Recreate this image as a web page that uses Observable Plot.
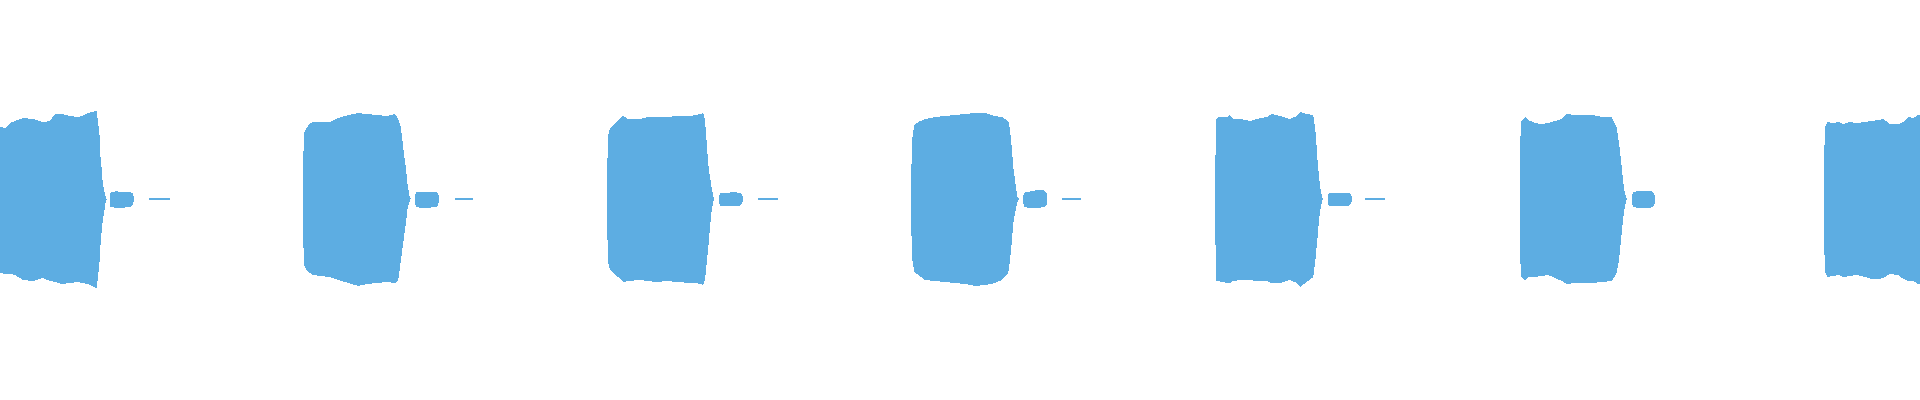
<!DOCTYPE html>
<html>
<head>
<meta charset="utf-8">
<script src="https://cdn.jsdelivr.net/npm/d3@7"></script>
<script src="https://cdn.jsdelivr.net/npm/@observablehq/plot@0.6"></script>
<style>
  html, body { margin: 0; padding: 0; background: #ffffff; }
  #chart svg { display: block; }
</style>
</head>
<body>
<div id="chart"></div>
<script>
// Waveform envelope readings: [time (ms), max amplitude, min amplitude]
const tone1 = [[0,36,-37],[5,35.5,-37.5],[10,38,-37.5],[15,39,-38],[23,40.5,-40.5],[33,40,-41],[43,38.5,-39.5],[50,39,-41],[55,42.5,-41.5],[62,42.5,-42.5],[70,41.5,-42],[77,41,-41.5],[82,41.5,-42],[88,43,-42.5],[96.5,44,-44.5],[98,38.5,-39],[99.5,32,-31.5],[100.5,21,-23],[101.5,16,-17],[102.5,9.5,-12],[104,4.5,-7],[105.5,1.5,-2],[106.5,0,-0.5]];
const blob1 = [[110,2.5,-3.5],[111,3.6,-4.2],[116,3.8,-4.3],[124,3.6,-4.3],[130,3.6,-4],[132.5,2.8,-3],[134,1,-1]];
const tail1 = [[149,0.4,-0.4],[170,0.4,-0.4]];

const tone2 = [[302.7,9.5,-10.5],[304,33,-33],[306.7,35.5,-35.5],[310,38,-37],[313.3,38.5,-38],[320,38.5,-38.5],[330,38.5,-39],[338.3,40.5,-40.5],[348.3,42,-42],[358.3,43,-43.5],[366.7,42.5,-42.5],[376.7,42,-42],[386.7,41.5,-41.5],[395,42.5,-42],[398.3,40,-40.5],[400.7,36,-31.5],[402.7,28,-24],[404,22,-19],[406,15.5,-12],[407.3,8,-5.5],[409.3,2,-1.5],[410.7,0,0]];
const blob2 = [[415,2,-2.5],[416.5,3.6,-4.2],[422,3.7,-4.3],[430,3.7,-4.3],[436,3.5,-4],[438,2.5,-3],[439.3,1,-1]];
const tail2 = [[455,0.4,-0.4],[473,0.4,-0.4]];

const tone3 = [[606.7,8.5,-9],[608.3,32,-32],[610,35.5,-35.5],[615,38,-38],[620,40.5,-39.5],[623.3,41.5,-41.5],[628.3,40,-41],[640,40,-40.5],[648.3,41,-41],[656.7,41,-41.5],[666.7,41,-41],[678.3,41.5,-41.5],[690,41.5,-42],[696.7,42,-42],[703.3,43,-43],[705,39.5,-40.5],[706.7,28.5,-32],[708.3,17,-24],[710,11,-14],[711.7,5.5,-5.5],[714,0,0]];
const blob3 = [[719.3,1.5,-2],[720.5,3,-3.5],[726,3.2,-3.5],[734,3.3,-3.5],[740,3.2,-3.4],[742,2,-2.5],[742.7,1,-1]];
const tail3 = [[757.7,0.4,-0.4],[778.3,0.4,-0.4]];

const tone4 = [[911,9.5,-10.5],[912.3,30.5,-30.5],[914.3,37,-36.5],[918.3,38.5,-38],[925,40,-40.5],[935,41,-41],[945,41.5,-41.5],[955,42,-42],[965,42.5,-42.5],[975,43,-43.5],[985,43,-43],[995,41.5,-42],[1001.7,41,-40.5],[1008.3,39,-37],[1010,34.5,-30.5],[1011.7,26,-22],[1013.3,16,-12],[1015,9.5,-7],[1017.3,1,-1.5],[1019,0,0]];
const blob4 = [[1023.3,1.5,-2],[1024.5,3.2,-4],[1030,3.8,-4.5],[1038,4.5,-4.5],[1044,4.5,-4],[1046.5,3,-3],[1047.3,1,-1]];
const tail4 = [[1061.7,0.4,-0.4],[1080.7,0.4,-0.4]];

const tone5 = [[1215,3,-3.5],[1216,40,-41],[1218.3,41,-41],[1226.7,41,-42],[1230,42,-42],[1233.3,40,-41],[1240,40,-40.5],[1250,39,-40.5],[1256.7,40,-41],[1266.7,41,-41],[1271.7,42.5,-42],[1280,41.5,-42],[1290,40,-40.5],[1296.7,41.5,-42],[1300,43.5,-44],[1306.7,42.5,-41.5],[1313.3,42,-39],[1315.7,33,-29],[1317.3,21,-20.5],[1319,11,-10.5],[1320.7,4.5,-4.5],[1322.7,0,0]];
const blob5 = [[1327.7,1.5,-2],[1329,2.8,-3.3],[1335,3,-3.5],[1343,3.2,-3.5],[1349,3,-3.3],[1351,2,-2.3],[1351.7,1,-1]];
const tail5 = [[1365,0.4,-0.4],[1385,0.4,-0.4]];

const tone6 = [[1520,24.5,-25.5],[1521,38.5,-39],[1525,41,-40.5],[1528.3,39.5,-39],[1535,38,-39],[1541.7,37.5,-38.5],[1548.3,38,-38],[1555,39,-39.5],[1561.7,40,-41],[1566.7,42.5,-42.5],[1575,42,-42],[1585,42,-42],[1593.3,42,-42],[1601.7,41,-41.5],[1611.7,41,-41],[1616.7,36,-37],[1619,28,-30.5],[1621,19.5,-20.5],[1622.7,11,-12],[1624.3,4.5,-5.5],[1626.7,0,0]];
const blob6 = [[1631.7,1.5,-2],[1633,3.2,-4],[1638,4,-4.5],[1646,4.2,-4.5],[1652,4,-4.2],[1654.3,2.5,-3],[1655,1,-1]];

const tone7 = [[1824,21,-22],[1825.3,36,-37],[1827.3,38.5,-39],[1833.3,38,-38.5],[1838.3,38.5,-38],[1843.3,37.5,-39],[1850,38.5,-38.5],[1856.7,38,-38],[1865,38.5,-39],[1871.7,39,-40],[1878.3,39.5,-40],[1883.3,40,-39.5],[1890,37.5,-37.5],[1898.3,37.5,-38],[1903.3,38.5,-40],[1908.3,41,-41],[1913.3,40.5,-41],[1918.3,42,-42.5],[1920,42,-42.5]];

const segments = [tone1, blob1, tail1, tone2, blob2, tail2, tone3, blob3, tail3, tone4, blob4, tail4, tone5, blob5, tail5, tone6, blob6, tone7];
const rows = segments.flatMap((seg, i) => seg.map(([t, hi, lo]) => ({t, hi, lo, seg: i})));

const chart = Plot.plot({
  width: 1920,
  height: 400,
  margin: 0,
  x: {domain: [0, 1920], axis: null},
  y: {domain: [-100.5, 99.5], axis: null},
  style: {background: "#ffffff"},
  marks: [
    Plot.areaY(rows, {x: "t", y1: "lo", y2: "hi", z: "seg", fill: "#5dade2", curve: "linear", shapeRendering: "crispEdges"})
  ]
});
document.getElementById("chart").appendChild(chart);
</script>
</body>
</html>
